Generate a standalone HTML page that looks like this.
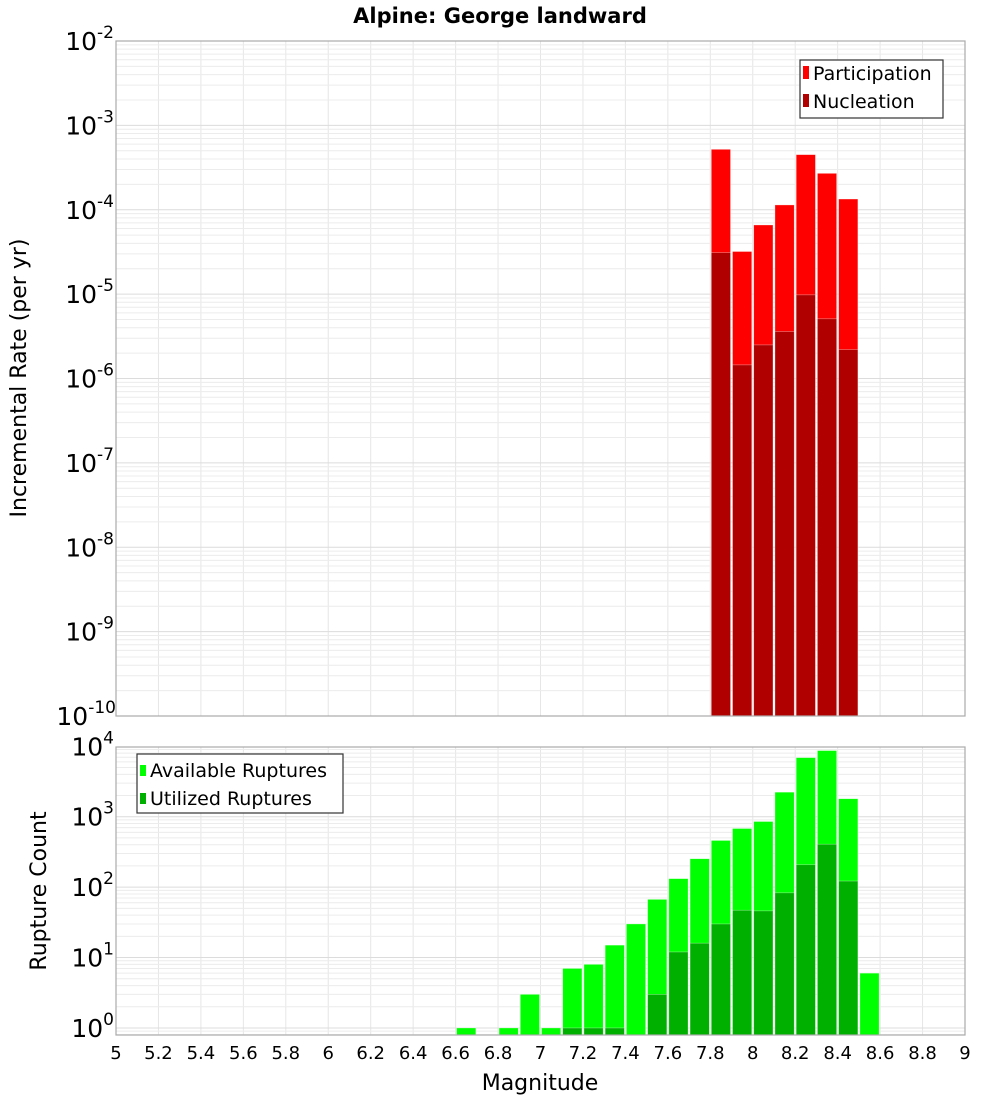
<!DOCTYPE html>
<html><head><meta charset="utf-8"><style>
body{margin:0;background:#fff;}
svg{display:block;font-family:"Liberation Sans","DejaVu Sans",sans-serif;}
</style></head><body>
<svg id="chart" width="1000" height="1100" viewBox="0 0 1000 1100">
<rect width="1000" height="1100" fill="#fff"/>
<text x="500" y="23" text-anchor="middle" font-size="21" font-weight="bold" font-family="DejaVu Sans, sans-serif">Alpine: George landward</text>
<text transform="translate(26,378) rotate(-90)" text-anchor="middle" font-size="22" font-family="DejaVu Sans, sans-serif">Incremental Rate (per yr)</text>
<text transform="translate(46,891) rotate(-90)" text-anchor="middle" font-size="22" font-family="DejaVu Sans, sans-serif">Rupture Count</text>
<text x="540" y="1090" text-anchor="middle" font-size="22" font-family="DejaVu Sans, sans-serif">Magnitude</text>
<g id="grid"></g><g id="bars"></g><g id="axes"></g>
<g>
<rect x="800" y="60" width="143" height="58" fill="#fff" stroke="#333" stroke-width="1.2"/>
<rect x="803" y="66" width="6" height="13" fill="#ff0000"/>
<text x="813" y="80" font-size="19" font-family="DejaVu Sans, sans-serif">Participation</text>
<rect x="803" y="94" width="6" height="13" fill="#b00000"/>
<text x="813" y="108" font-size="19" font-family="DejaVu Sans, sans-serif">Nucleation</text>
</g>
<g>
<rect x="137" y="754" width="206" height="59" fill="#fff" stroke="#333" stroke-width="1.2"/>
<rect x="140" y="765" width="6" height="11" fill="#00ff00"/>
<text x="150" y="777" font-size="19" font-family="DejaVu Sans, sans-serif">Available Ruptures</text>
<rect x="140" y="793" width="6" height="11" fill="#00b000"/>
<text x="150" y="805" font-size="19" font-family="DejaVu Sans, sans-serif">Utilized Ruptures</text>
</g>
</svg>
<script>
const topMags=[7.85,7.95,8.05,8.15,8.25,8.35,8.45];
const participation=[5.2e-4,3.2e-5,6.6e-5,1.14e-4,4.5e-4,2.7e-4,1.34e-4];
const nucleation=[3.1e-5,1.45e-6,2.5e-6,3.6e-6,9.8e-6,5.1e-6,2.2e-6];
const botMags=[6.65,6.85,6.95,7.05,7.15,7.25,7.35,7.45,7.55,7.65,7.75,7.85,7.95,8.05,8.15,8.25,8.35,8.45,8.55];
const available=[1,1,3,1,7,8,15,30,67,132,253,460,680,855,2230,6900,8700,1800,6];
const utilized=[0,0,0,0,1,1,1,0,3,12,16,30,47,46,83,208,407,122,0];
const xTicks=[5,5.2,5.4,5.6,5.8,6,6.2,6.4,6.6,6.8,7,7.2,7.4,7.6,7.8,8,8.2,8.4,8.6,8.8,9];
const topExp=[-2,-3,-4,-5,-6,-7,-8,-9,-10];
const botExp=[0,1,2,3,4];

const NS="http://www.w3.org/2000/svg";
const L=116,R=965;
const X=m=>L+(m-5)*(R-L)/4;
const T={top:41,bot:716,hi:-2,lo:-10};
const B={top:747,bot:1035,hi:3.99,lo:-0.1};
const Yt=v=>T.top+(T.hi-Math.log10(v))*(T.bot-T.top)/(T.hi-T.lo);
const Yb=v=>B.top+(B.hi-Math.log10(v))*(B.bot-B.top)/(B.hi-B.lo);
function el(tag,attrs,parent,text){const e=document.createElementNS(NS,tag);for(const k in attrs)e.setAttribute(k,attrs[k]);if(text!==undefined)e.textContent=text;parent.appendChild(e);return e;}
const grid=document.getElementById('grid'),bars=document.getElementById('bars'),axes=document.getElementById('axes');

function panelGrid(P,Y,expLo,expHi){
  xTicks.forEach(t=>{const l=el('line',{x1:X(t),x2:X(t),y1:P.top,y2:P.bot,stroke:'#e6e6e6','stroke-width':1},grid);
  
  });
  for(let e=expLo;e<=expHi;e++){for(let k=1;k<10;k++){const v=k*Math.pow(10,e);const y=Y(v);if(y<P.top-0.5||y>P.bot+0.5)continue;
    const l=el('line',{x1:L,x2:R,y1:y,y2:y,stroke:k==1?'#dcdcdc':'#ececec','stroke-width':1},grid);
    
    }}
  const f=el('rect',{x:L,y:P.top,width:R-L,height:P.bot-P.top,fill:'none',stroke:'#aaa','stroke-width':1.2},axes);
  
  
}
panelGrid(T,Yt,-10,-3);
panelGrid(B,Yb,-1,3);

const bw=(R-L)/40;
function bar(m,v,Y,P,color,name){if(!v)return;const y=Math.max(Y(v),P.top);
  const r=el('rect',{x:X(m)-bw/2+1,y:y,width:bw-2,height:P.bot-y,fill:color,stroke:'#ffffff','stroke-opacity':0.5,'stroke-width':0.6},bars);
  
  }
topMags.forEach((m,i)=>bar(m,participation[i],Yt,T,'#ff0000','participation-bar'));
topMags.forEach((m,i)=>bar(m,nucleation[i],Yt,T,'#b00000','nucleation-bar'));
botMags.forEach((m,i)=>bar(m,available[i],Yb,B,'#00ff00','available-bar'));
botMags.forEach((m,i)=>bar(m,utilized[i],Yb,B,'#00b000','utilized-bar'));

function expLabel(x,y,e,name){const t=el('text',{x:x,y:y,'text-anchor':'end','font-size':25,'font-family':'DejaVu Sans, sans-serif'},axes);
  
  
  el('tspan',{},t,'10');el('tspan',{dy:-12,'font-size':17},t,String(e));}
topExp.forEach(e=>expLabel(e<=-10?116:114,Yt(Math.pow(10,e))+9,e,'top-y-tick-label'));
botExp.forEach(e=>expLabel(e>=1?114:114,Yb(Math.pow(10,e))+9,e,'bottom-y-tick-label'));
xTicks.forEach(t=>{const s=el('text',{x:X(t),y:1059,'text-anchor':'middle','font-size':18,'font-family':'DejaVu Sans, sans-serif'},axes,String(t));
  
  });
</script>
</body></html>
